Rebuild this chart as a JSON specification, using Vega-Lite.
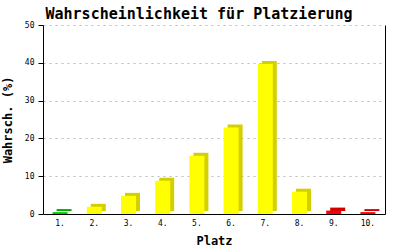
{
  "$schema": "https://vega.github.io/schema/vega-lite/v6.json",
  "autosize": {"type": "none"},
  "width": 342,
  "height": 189,
  "padding": {"left": 43, "top": 25, "right": 15, "bottom": 36},
  "background": "white",
  "title": {
    "text": "Wahrscheinlichkeit für Platzierung",
    "font": "DejaVu Sans Mono",
    "fontSize": 15,
    "fontWeight": "bold",
    "color": "black",
    "anchor": "middle",
    "dx": -15,
    "dy": 5,
    "offset": 4
  },
  "data": {
    "values": [
      {"platz": "1.", "wert": 0.5, "farbe": "grün"},
      {"platz": "2.", "wert": 1.9, "farbe": "gelb"},
      {"platz": "3.", "wert": 4.8, "farbe": "gelb"},
      {"platz": "4.", "wert": 8.8, "farbe": "gelb"},
      {"platz": "5.", "wert": 15.4, "farbe": "gelb"},
      {"platz": "6.", "wert": 22.9, "farbe": "gelb"},
      {"platz": "7.", "wert": 39.7, "farbe": "gelb"},
      {"platz": "8.", "wert": 5.9, "farbe": "gelb"},
      {"platz": "9.", "wert": 0.9, "farbe": "rot"},
      {"platz": "10.", "wert": 0.5, "farbe": "rot"}
    ]
  },
  "encoding": {
    "x": {
      "field": "platz",
      "type": "nominal",
      "sort": null,
      "scale": {"paddingInner": 0, "paddingOuter": 0},
      "axis": {
        "title": "Platz",
        "titleFont": "DejaVu Sans Mono",
        "titleFontSize": 12,
        "titleFontWeight": "bold",
        "titleColor": "black",
        "titlePadding": 8,
        "labelAngle": 0,
        "labelFont": "DejaVu Sans Mono",
        "labelFontSize": 8,
        "labelColor": "black",
        "labelPadding": 5,
        "ticks": false,
        "domainColor": "black",
        "domainWidth": 1
      }
    }
  },
  "layer": [
    {
      "mark": {"type": "bar", "width": 15, "xOffset": 4, "yOffset": -3},
      "encoding": {
        "y": {
          "field": "wert",
          "type": "quantitative",
          "scale": {"domain": [0, 50]},
          "axis": {
            "title": "Wahrsch. (%)",
            "titleFont": "DejaVu Sans Mono",
            "titleFontSize": 12,
            "titleFontWeight": "bold",
            "titleColor": "black",
            "titlePadding": 10,
            "values": [0, 10, 20, 30, 40, 50],
            "labelFont": "DejaVu Sans Mono",
            "labelFontSize": 8,
            "labelColor": "black",
            "labelPadding": 4,
            "tickSize": 5,
            "tickColor": "black",
            "domainColor": "black",
            "grid": true,
            "gridColor": "#bbbbbb",
            "gridDash": [2, 4],
            "gridWidth": 1
          }
        },
        "color": {
          "field": "farbe",
          "type": "nominal",
          "scale": {"domain": ["grün", "gelb", "rot"], "range": ["#00a800", "#d4d000", "#cc0000"]},
          "legend": null
        }
      }
    },
    {
      "mark": {"type": "bar", "width": 15},
      "encoding": {
        "y": {
          "field": "wert",
          "type": "quantitative",
          "scale": {"domain": [0, 50]},
          "axis": {
            "orient": "right",
            "title": null,
            "labels": false,
            "ticks": false,
            "grid": false,
            "domainColor": "black"
          }
        },
        "color": {
          "field": "farbe",
          "type": "nominal",
          "scale": {"domain": ["grün", "gelb", "rot"], "range": ["#00cc00", "#ffff00", "#ff0000"]},
          "legend": null
        }
      }
    }
  ],
  "resolve": {"scale": {"color": "independent"}, "axis": {"y": "independent"}},
  "config": {"view": {"stroke": null}}
}
